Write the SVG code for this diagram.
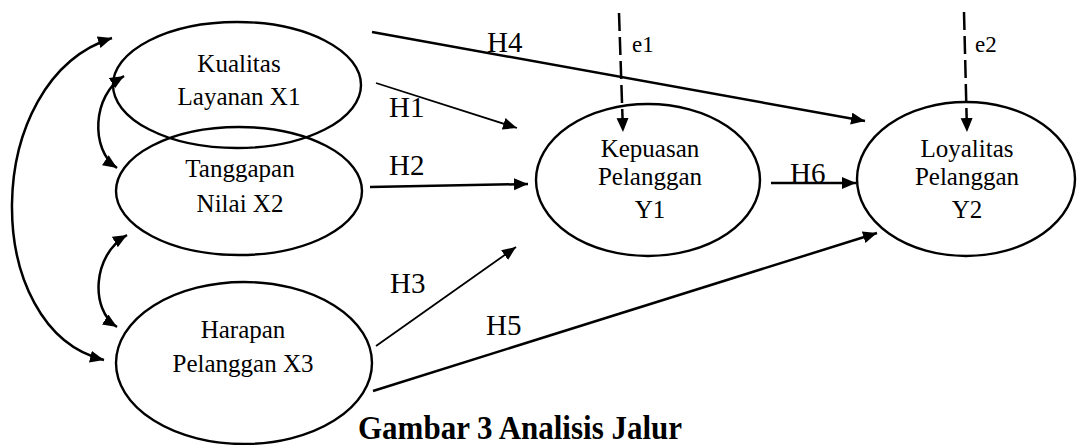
<svg xmlns="http://www.w3.org/2000/svg" width="1077" height="445" viewBox="0 0 1077 445">
<style>
.node ellipse{fill:none;stroke:#000;stroke-width:2.4}
.lbl{font-family:"Liberation Serif","Times New Roman",serif;font-size:25px;fill:#000;text-anchor:middle}
.h{font-family:"Liberation Serif","Times New Roman",serif;font-size:29px;fill:#000}
.e{font-family:"Liberation Serif","Times New Roman",serif;font-size:23px;fill:#000}
.cap{font-family:"Liberation Serif","Times New Roman",serif;font-size:31px;font-weight:bold;fill:#000}
.c{fill:none;stroke:#000;stroke-width:2.5;marker-end:url(#ah)}
.thin{stroke-width:1.8}
.dash{stroke-dasharray:18 6}
.both{marker-start:url(#ah)}
</style>
<defs>
<marker id="ah" markerUnits="userSpaceOnUse" markerWidth="15" markerHeight="13" refX="14" refY="6" orient="auto-start-reverse">
<path d="M0,0 L14,6 L0,12 z" fill="#000"/>
</marker>
</defs>
<rect width="1077" height="445" fill="#fff"/>
<g id="x1" class="node">
<ellipse cx="237" cy="85" rx="124" ry="63"/>
<text class="lbl" x="239" y="72">Kualitas</text>
<text class="lbl" x="239" y="105">Layanan X1</text>
</g>
<g id="x2" class="node">
<ellipse cx="239" cy="191" rx="123" ry="64"/>
<text class="lbl" x="240" y="177">Tanggapan</text>
<text class="lbl" x="240" y="212">Nilai X2</text>
</g>
<g id="x3" class="node">
<ellipse cx="244" cy="363" rx="128" ry="81"/>
<text class="lbl" x="243" y="338">Harapan</text>
<text class="lbl" x="243" y="372">Pelanggan X3</text>
</g>
<g id="y1" class="node">
<ellipse cx="648" cy="180" rx="112" ry="76"/>
<text class="lbl" x="650" y="157">Kepuasan</text>
<text class="lbl" x="650" y="185">Pelanggan</text>
<text class="lbl" x="650" y="218">Y1</text>
</g>
<g id="y2" class="node">
<ellipse cx="966" cy="179" rx="109" ry="77"/>
<text class="lbl" x="967" y="157">Loyalitas</text>
<text class="lbl" x="967" y="185">Pelanggan</text>
<text class="lbl" x="967" y="218">Y2</text>
</g>
<g id="connectors">
<path class="c both" d="M112 38 C-20 80,-20 330,104 360"/>
<path class="c both" d="M124 76 C92 95,90 150,117 168"/>
<path class="c both" d="M127 235 C92 255,90 310,117 327"/>
<path class="c" d="M372 32 L865 121"/>
<path class="c thin" d="M376 83 L517 128"/>
<path class="c" d="M370 187 L528 184"/>
<path class="c thin" d="M376 346 L516 247"/>
<path class="c" d="M373 391 L877 233"/>
<path class="c" d="M771 183 L856 183"/>
<path class="c dash" d="M619 13 L623 132"/>
<path class="c dash" d="M964 12 L967 132"/>
</g>
<g id="labels">
<text class="h" x="487" y="52">H4</text>
<text class="h" x="389" y="117">H1</text>
<text class="h" x="389" y="175">H2</text>
<text class="h" x="390" y="293">H3</text>
<text class="h" x="486" y="335">H5</text>
<text class="h" x="790" y="183">H6</text>
<text class="e" x="632" y="52">e1</text>
<text class="e" x="975" y="52">e2</text>
<text class="cap" transform="translate(358 439) scale(1 1.12)">Gambar 3 Analisis Jalur</text>
</g>
</svg>
